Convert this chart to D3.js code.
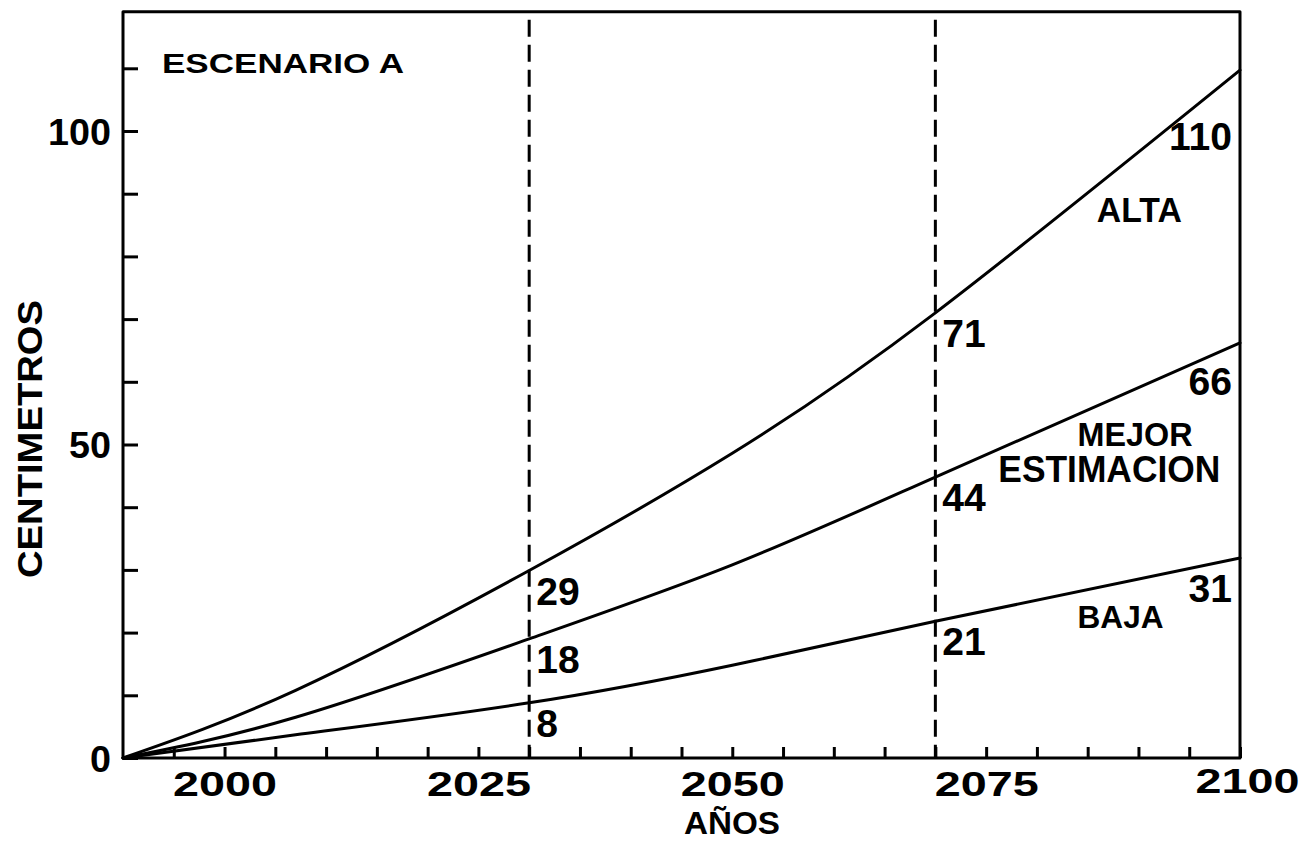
<!DOCTYPE html>
<html>
<head>
<meta charset="utf-8">
<script src="https://cdn.jsdelivr.net/npm/d3@7"></script>
<style>
  html, body { margin: 0; padding: 0; background: #fff; }
  svg { display: block; }
  text { font-family: "Liberation Sans", Arial, sans-serif; font-weight: bold; fill: #000; }
</style>
</head>
<body>
<svg id="chart" width="1307" height="843"></svg>
<script>
// ---- data ----
const years = [1990, 2007, 2030, 2050, 2070, 2100];
const alta  = [0, 10.8, 29.9, 48.6, 71.0, 109.7];
const mejor = [0,  6.5, 19.0, 30.8, 44.8,  66.2];
const baja  = [0,  3.7,  8.8, 14.8, 21.8,  31.9];
const markerYears = [2030, 2070];
const altaMarkerLabels  = [29, 71];
const mejorMarkerLabels = [18, 44];
const bajaMarkerLabels  = [8, 21];
const endLabels = [110, 66, 31];
const xTickLabels = [2000, 2025, 2050, 2075, 2100];
const yTickLabels = [0, 50, 100];
const seriesNames = ["ALTA", "MEJOR ESTIMACION", "BAJA"];
const title = "ESCENARIO A";
const xTitle = "AÑOS";
const yTitle = "CENTIMETROS";

// ---- layout ----
const svg = d3.select("#chart");
const x = d3.scaleLinear().domain([1990, 2100]).range([123, 1240]);
const y = d3.scaleLinear().domain([0, 100]).range([758, 131]);
const yTop = 119;
const CAP = 0.716; // cap-height ratio of the font

function capText(sel, cap) { return sel.attr("font-size", (cap / CAP).toFixed(1)); }

// frame
svg.append("path")
  .attr("d", `M${x(1990)},${y(yTop)} H${x(2100)} V${y(0)} H${x(1990)} Z`)
  .attr("fill", "none").attr("stroke", "#000").attr("stroke-width", 3)
  .attr("stroke-linejoin", "round");

// dashed marker lines
svg.selectAll("line.marker").data(markerYears).join("line")
  .attr("class", "marker")
  .attr("x1", d => x(d)).attr("x2", d => x(d))
  .attr("y1", y(yTop) + 8).attr("y2", y(0))
  .attr("stroke", "#000").attr("stroke-width", 3)
  .attr("stroke-dasharray", "17,8");

// x axis
const xAxis = d3.axisBottom(x)
  .tickValues(d3.range(1995, 2101, 5))
  .tickSizeInner(-11).tickSizeOuter(0).tickPadding(0)
  .tickFormat(d => xTickLabels.includes(d) ? String(d) : "");
const gx = svg.append("g").attr("transform", `translate(0,${y(0)})`).call(xAxis);
gx.select(".domain").remove();
gx.selectAll(".tick line").attr("stroke", "#000").attr("stroke-width", 3);
gx.selectAll(".tick text")
  .attr("y", 38).attr("dy", 0)
  .attr("font-family", null).attr("fill", "#000")
  .call(capText, 25)
  .each(function(d) {
    if (xTickLabels.includes(d)) {
      d3.select(this).attr("textLength", 104).attr("lengthAdjust", "spacingAndGlyphs");
    }
  });
gx.selectAll(".tick").filter(d => d === 2100).select("text").attr("dx", 7).attr("y", 35);

// y axis
const yAxis = d3.axisLeft(y)
  .tickValues(d3.range(0, 111, 10))
  .tickSizeInner(-15).tickSizeOuter(0).tickPadding(12)
  .tickFormat(d => yTickLabels.includes(d) ? String(d) : "");
const gy = svg.append("g").attr("transform", `translate(${x(1990)},0)`).call(yAxis);
gy.select(".domain").remove();
gy.selectAll(".tick line").attr("stroke", "#000").attr("stroke-width", 3);
gy.selectAll(".tick text")
  .attr("font-family", null).attr("fill", "#000")
  .attr("dy", "13px")
  .call(capText, 27);

// curves
const line = d3.line().x((d, i) => x(years[i])).y(d => y(d)).curve(d3.curveNatural);
const series = [alta, mejor, baja];
series.forEach(s => {
  svg.append("path").attr("d", line(s))
    .attr("fill", "none").attr("stroke", "#000").attr("stroke-width", 3)
    .attr("stroke-linecap", "round");
});

// value labels at marker years (placed just under the curve, right of the dashed line)
const valueAt = (s, yr) => s[years.indexOf(yr)];
const markerLabels = [altaMarkerLabels, mejorMarkerLabels, bajaMarkerLabels];
series.forEach((s, i) => {
  markerYears.forEach((yr, j) => {
    svg.append("text")
      .attr("x", x(yr) + 7)
      .attr("y", y(valueAt(s, yr)) + 34)
      .call(capText, 28)
      .text(markerLabels[i][j]);
  });
});

// end labels at 2100
const endOffsets = [80, 52, 44];
series.forEach((s, i) => {
  svg.append("text")
    .attr("x", x(2100) - 8)
    .attr("y", y(valueAt(s, 2100)) + endOffsets[i])
    .attr("text-anchor", "end")
    .call(capText, 28)
    .text(endLabels[i]);
});

// series names
const nameAnchors = [
  { yr: [2085.9], val: [85.5], cap: [25], w: [85] },
  { yr: [2084.0, 2076.2], val: [49.8, 44.0], cap: [24, 26], w: [115, 222] },
  { yr: [2084.0], val: [20.7], cap: [23], w: [86] }
];
nameAnchors.forEach((a, i) => {
  seriesNames[i].split(" ").forEach((wd, j) => {
    svg.append("text")
      .attr("x", x(a.yr[j])).attr("y", y(a.val[j]))
      .call(capText, a.cap[j])
      .attr("textLength", a.w[j]).attr("lengthAdjust", "spacingAndGlyphs")
      .text(wd);
  });
});

// title
svg.append("text")
  .attr("x", 162).attr("y", 73)
  .call(capText, 20)
  .attr("textLength", 242).attr("lengthAdjust", "spacingAndGlyphs")
  .text(title);

// axis titles
svg.append("text")
  .attr("x", 732).attr("y", 834)
  .attr("text-anchor", "middle")
  .call(capText, 22)
  .attr("textLength", 96).attr("lengthAdjust", "spacingAndGlyphs")
  .text(xTitle);

svg.append("text")
  .attr("transform", "translate(42,439) rotate(-90)")
  .attr("text-anchor", "middle")
  .call(capText, 25)
  .attr("textLength", 278).attr("lengthAdjust", "spacingAndGlyphs")
  .text(yTitle);
</script>
</body>
</html>
